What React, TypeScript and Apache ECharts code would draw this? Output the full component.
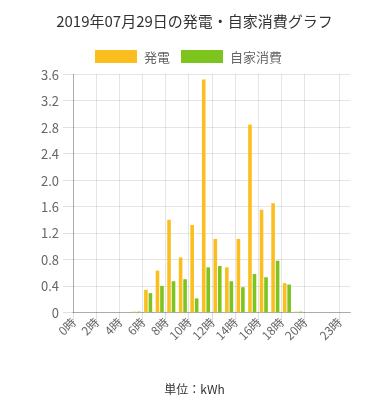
import React, { useEffect, useRef } from "react";
import * as echarts from "echarts";

const hours: string[] = Array.from({ length: 24 }, (_, i) => `${i}時`);
const generation: number[] = [0, 0, 0, 0, 0, 0.01, 0.34, 0.63, 1.4, 0.83, 1.32, 3.52, 1.11, 0.68, 1.11, 2.84, 1.55, 1.65, 0.44, 0.01, 0, 0, 0, 0];
const selfConsumption: number[] = [0, 0, 0, 0, 0, 0.01, 0.29, 0.4, 0.47, 0.5, 0.21, 0.68, 0.7, 0.47, 0.38, 0.58, 0.53, 0.78, 0.42, 0.01, 0, 0, 0, 0];
const tickHours: number[] = [0, 2, 4, 6, 8, 10, 12, 14, 16, 18, 20, 23];
const yTicks = { min: 0, max: 3.6, interval: 0.4 };

const FONT = '"Noto Sans CJK JP", "Noto Sans", sans-serif';

export default function App() {
  const ref = useRef<HTMLDivElement>(null);
  useEffect(() => {
    if (!ref.current) return;
    const chart = echarts.init(ref.current, null, { renderer: "svg" });
    chart.setOption({
      animation: false,
      textStyle: { fontFamily: FONT },
      title: {
        text: "2019年07月29日の発電・自家消費グラフ",
        left: "center",
        top: 8,
        textStyle: { fontSize: 15, fontWeight: "normal", color: "#333", fontFamily: FONT },
      },
      legend: {
        left: 90,
        top: 45,
        itemWidth: 42,
        itemHeight: 13,
        itemGap: 11,
        icon: "rect",
        textStyle: { fontSize: 13, color: "#666", fontFamily: FONT, padding: [0, 0, 0, 2] },
        data: ["発電", "自家消費"],
      },
      grid: { left: 73, right: 38.5, top: 74.3, bottom: 87.7 },
      xAxis: [
        {
          type: "category",
          data: hours,
          boundaryGap: true,
          show: false,
        },
        {
          type: "value",
          min: 0,
          max: 24,
          interval: 1,
          position: "bottom",
          axisLine: { show: true, lineStyle: { color: "rgba(0,0,0,0.25)" } },
          axisTick: { show: true, length: 8, customValues: tickHours, lineStyle: { color: "rgba(0,0,0,0.12)" } },
          axisLabel: {
            customValues: tickHours,
            rotate: 45,
            fontSize: 12,
            color: "#666",
            margin: 7,
            fontFamily: FONT,
            formatter: (v: number) => `${v}時`,
          },
          splitLine: { show: true, lineStyle: { color: "rgba(0,0,0,0.1)" } },
        },
      ],
      yAxis: {
        type: "value",
        min: yTicks.min,
        max: yTicks.max,
        interval: yTicks.interval,
        axisLine: { show: true, lineStyle: { color: "rgba(0,0,0,0.25)" } },
        axisTick: { show: true, length: 10, lineStyle: { color: "rgba(0,0,0,0.12)" } },
        axisLabel: {
          fontSize: 13,
          color: "#666",
          margin: 14,
          fontFamily: FONT,
          formatter: (v: number) => (v === 0 ? "0" : v.toFixed(1)),
        },
        splitLine: { show: true, lineStyle: { color: "rgba(0,0,0,0.1)" } },
      },
      graphic: [
        {
          type: "text",
          left: "center",
          top: 382,
          style: { text: "単位：kWh", fontSize: 12, fill: "#333", fontFamily: FONT },
        },
      ],
      series: [
        {
          name: "発電",
          type: "bar",
          xAxisIndex: 0,
          data: generation,
          barWidth: 3.6,
          barGap: "25%",
          itemStyle: { color: "#FABE1E" },
        },
        {
          name: "自家消費",
          type: "bar",
          xAxisIndex: 0,
          data: selfConsumption,
          barWidth: 3.6,
          barGap: "25%",
          itemStyle: { color: "#7DC41F" },
        },
      ],
    });
    return () => chart.dispose();
  }, []);
  return <div ref={ref} style={{ position: "fixed", left: 0, top: 0, width: 389, height: 400 }} />;
}
